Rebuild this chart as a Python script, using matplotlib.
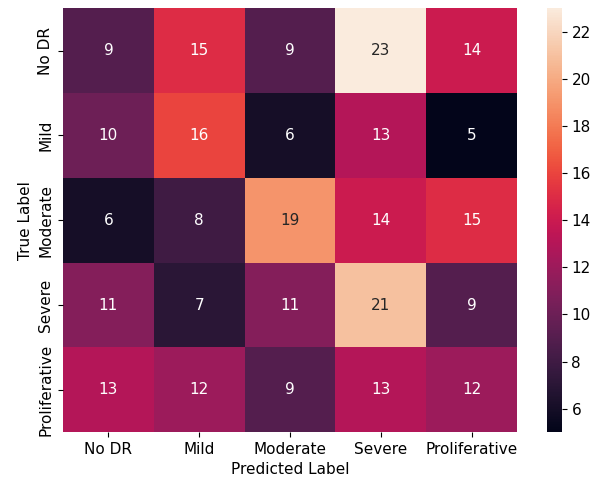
import matplotlib
matplotlib.use("Agg")
import matplotlib.pyplot as plt
import seaborn as sns
import numpy as np

classes = ["No DR", "Mild", "Moderate", "Severe", "Proliferative"]
row_no_dr = [9, 15, 9, 23, 14]
row_mild = [10, 16, 6, 13, 5]
row_moderate = [6, 8, 19, 14, 15]
row_severe = [11, 7, 11, 21, 9]
row_proliferative = [13, 12, 9, 13, 12]

cm = np.array([row_no_dr, row_mild, row_moderate, row_severe, row_proliferative])

fig = plt.figure(figsize=(6.06, 4.84), dpi=100)
ax = fig.add_axes([0.104, 0.107, 0.749, 0.876])
cax = fig.add_axes([0.903, 0.107, 0.024, 0.876])

sns.heatmap(cm, annot=True, fmt="d", xticklabels=classes, yticklabels=classes,
            ax=ax, cbar_ax=cax, annot_kws={"fontsize": 11})
ax.set_xlabel("Predicted Label", fontsize=11)
ax.set_ylabel("True Label", fontsize=11)
ax.tick_params(labelsize=11)
cax.tick_params(labelsize=11)

fig.savefig("out.png", dpi=100)
